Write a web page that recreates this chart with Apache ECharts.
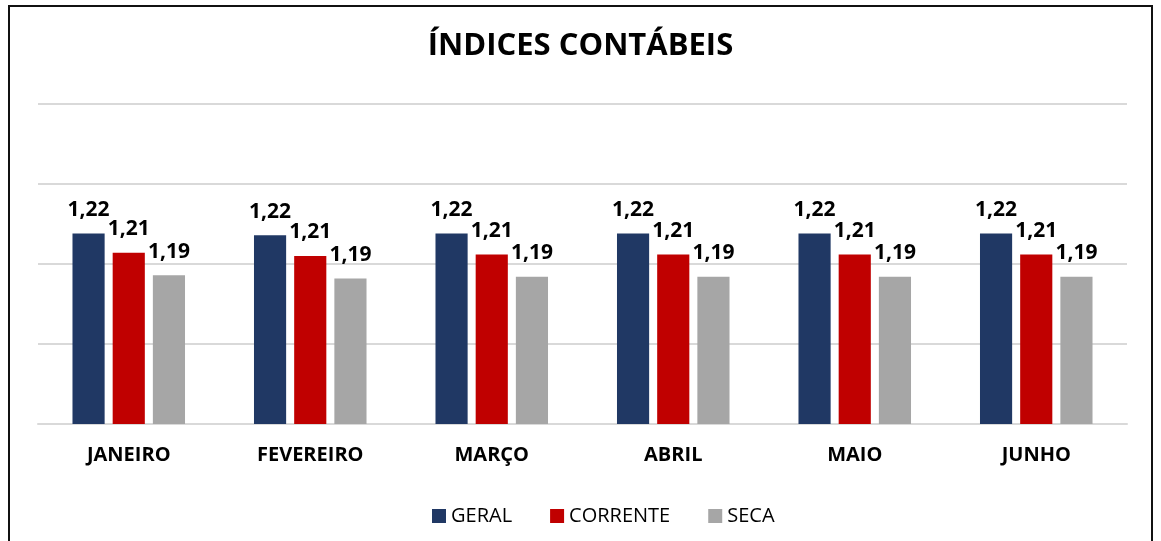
<!DOCTYPE html>
<html>
<head>
<meta charset="utf-8">
<script src="https://cdn.jsdelivr.net/npm/echarts@6/dist/echarts.min.js"></script>
<style>
html,body{margin:0;padding:0;background:#fff;}
#chart{width:1161px;height:541px;position:absolute;left:0;top:0;}
#frame{position:absolute;left:8px;top:5px;width:1145px;height:560px;border:2px solid #111;border-bottom:none;box-sizing:border-box;pointer-events:none;}
</style>
</head>
<body>
<div id="chart"></div>
<div id="frame"></div>
<script>
const categories = ['JANEIRO','FEVEREIRO','MARÇO','ABRIL','MAIO','JUNHO'];
const geral    = [1.219, 1.218, 1.219, 1.219, 1.219, 1.219];
const corrente = [1.207, 1.205, 1.206, 1.206, 1.206, 1.206];
const seca     = [1.193, 1.191, 1.192, 1.192, 1.192, 1.192];
const seriesNames = ['GERAL','CORRENTE','SECA'];
const colors = ['#203864','#c00000','#a6a6a6'];

const font = '"Open Sans", "Noto Sans", sans-serif';
const chart = echarts.init(document.getElementById('chart'));
const label = {
  show: true, position: 'top', distance: 13,
  fontFamily: font, fontWeight: 'bold', fontSize: 21, color: '#000',
  formatter: p => p.value.toFixed(2).replace('.', ',')
};
const dataSets = [geral, corrente, seca];
chart.setOption({
  animation: false,
  title: {
    text: 'ÍNDICES CONTÁBEIS', left: 'center', top: 26,
    textStyle: { fontFamily: font, fontWeight: 'bold', fontSize: 31, color: '#000' }
  },
  legend: {
    bottom: 10, left: 427, itemWidth: 14, itemHeight: 14, itemGap: 38,
    icon: 'rect',
    textStyle: { fontFamily: font, fontSize: 20, color: '#000' }
  },
  grid: { left: 38, right: 34, top: 104, bottom: 117 },
  xAxis: {
    type: 'category', data: categories,
    axisLine: { show: true, lineStyle: { color: '#d9d9d9', width: 2 } },
    axisTick: { show: false },
    axisLabel: { fontFamily: font, fontWeight: 'bold', fontSize: 20, color: '#000', margin: 21 }
  },
  yAxis: {
    type: 'value', min: 1.1, max: 1.3, interval: 0.05,
    axisLabel: { show: false },
    axisLine: { show: false }, axisTick: { show: false },
    splitLine: { lineStyle: { color: '#d9d9d9', width: 2 } }
  },
  series: seriesNames.map((n, i) => ({
    name: n, type: 'bar', data: dataSets[i],
    itemStyle: { color: colors[i] },
    barGap: '25%', barCategoryGap: '38%',
    label: label
  }))
});
</script>
</body>
</html>
